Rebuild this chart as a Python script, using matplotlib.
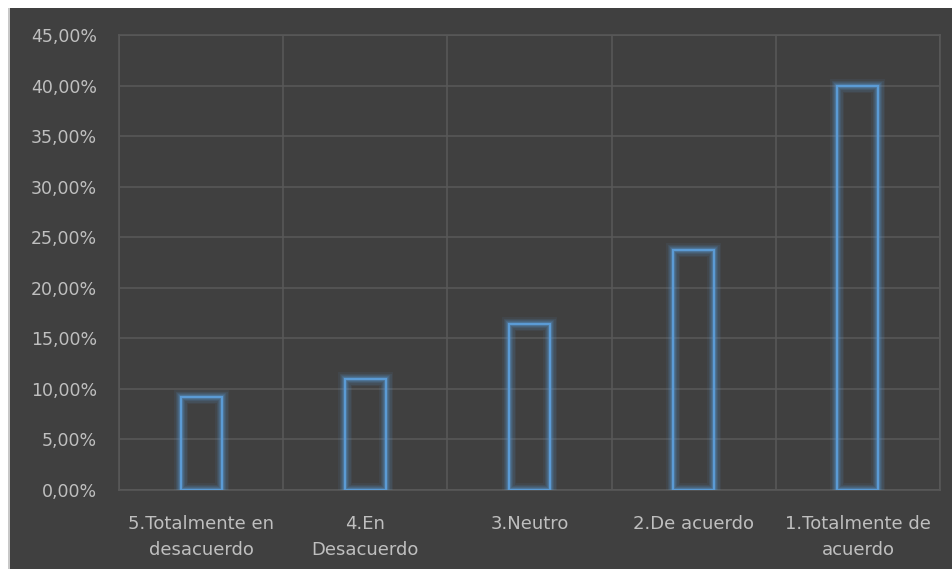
import matplotlib
matplotlib.use("Agg")
import matplotlib.pyplot as plt
from matplotlib.patches import Rectangle
from matplotlib.ticker import FuncFormatter, MultipleLocator, FixedLocator
import numpy as np

categories = ["5.Totalmente en\ndesacuerdo", "4.En\nDesacuerdo", "3.Neutro",
              "2.De acuerdo", "1.Totalmente de\nacuerdo"]
values = [9.2, 11.0, 16.4, 23.7, 40.0]

bg = "#404040"
grid_c = "#585858"
text_c = "#bfbfbf"
bar_c = "#5b9bd5"

fig = plt.figure(figsize=(9.52, 5.69), dpi=100)
fig.patch.set_facecolor("white")
# dark chart area with a thin grey frame on the left
fig.patches.append(Rectangle((10 / 952, 0), 1, (569 - 8) / 569, transform=fig.transFigure,
                             facecolor=bg, edgecolor="none", zorder=-10))
fig.patches.append(Rectangle((8 / 952, 0), 2 / 952, (569 - 8) / 569, transform=fig.transFigure,
                             facecolor="#c8c8c8", edgecolor="none", zorder=-10))

ax = fig.add_axes([119 / 952, 79 / 569, (940 - 119) / 952, (534 - 79) / 569])
ax.set_facecolor(bg)

x = np.arange(len(categories))
width = 0.25

# soft glow around each outlined bar
for lw, a in [(10, 0.08), (8, 0.1), (6, 0.13), (4.5, 0.18), (3, 0.25)]:
    ax.bar(x, values, width=width, facecolor="none", edgecolor=bar_c,
           linewidth=lw, alpha=a, zorder=3)
ax.bar(x, values, width=width, facecolor="none", edgecolor=bar_c,
       linewidth=1.6, zorder=4)

ax.set_xlim(-0.5, len(categories) - 0.5)
ax.set_ylim(0, 45)
ax.yaxis.set_major_locator(MultipleLocator(5))
ax.yaxis.set_major_formatter(FuncFormatter(lambda v, p: f"{v:.2f}".replace(".", ",") + "%"))
ax.set_xticks(x)
ax.set_xticklabels(categories)
ax.xaxis.set_minor_locator(FixedLocator(np.arange(-0.5, len(categories), 1.0)))

ax.grid(axis="y", which="major", color=grid_c, linewidth=1.2, zorder=1)
ax.grid(axis="x", which="minor", color=grid_c, linewidth=1.2, zorder=1)
ax.grid(axis="x", which="major", visible=False)
ax.set_axisbelow(True)
for s in ax.spines.values():
    s.set_color(grid_c)
    s.set_linewidth(1.2)

ax.tick_params(axis="both", which="both", length=0, colors=text_c)
ax.tick_params(axis="y", labelsize=12.5, pad=16)
ax.tick_params(axis="x", labelsize=13, pad=18)
for lab in ax.get_yticklabels():
    lab.set_color(text_c)
for lab in ax.get_xticklabels():
    lab.set_color(text_c)
    lab.set_linespacing(1.6)

fig.savefig("out.png", dpi=100, facecolor=fig.get_facecolor())
